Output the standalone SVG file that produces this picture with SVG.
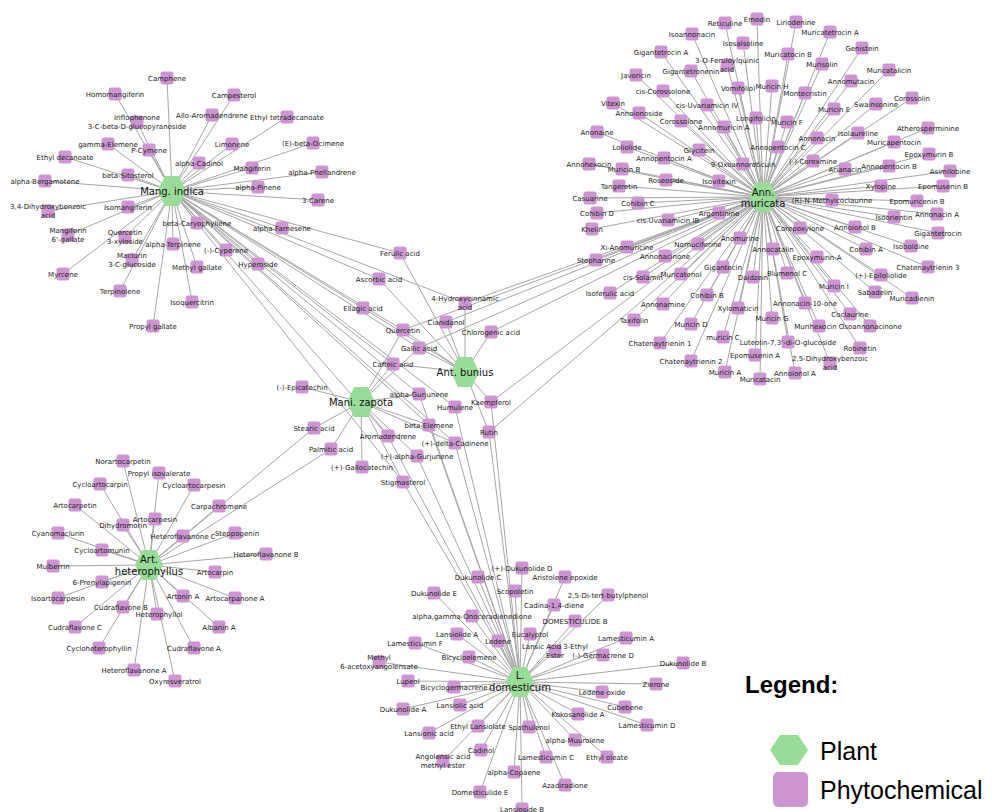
<svg xmlns="http://www.w3.org/2000/svg" xmlns:xlink="http://www.w3.org/1999/xlink" width="992" height="812" viewBox="0 0 992 812">
<style>
.e{stroke:#a6a6a6;stroke-width:1;fill:none}
.sq{fill:#cd96d2}
.hx{fill:#98dc98}
text{font-family:"DejaVu Sans",sans-serif;font-size:7px;fill:#1a1a1a;text-anchor:middle}
.hub text{font-size:10px;fill:#111}
text.lg{font-family:"Liberation Sans",Arial,sans-serif;text-anchor:start;fill:#000;font-size:25px}
text.lgt{font-weight:bold;font-size:24px}
</style>
<defs>
<rect id="sq" class="sq" x="-6.5" y="-6.5" width="13" height="13" rx="2.5"/>
<polygon id="hex" class="hx" points="-14,0 -7,-15 7,-15 14,0 7,15 -7,15"/>
</defs>
<rect width="992" height="812" fill="#fff"/>
<g id="connectors">
<!-- Mang. indica -->
<path class="e" d="M172 191L115 94"/><path class="e" d="M172 191L167 78"/><path class="e" d="M172 191L234 95"/><path class="e" d="M172 191L137 122"/><path class="e" d="M172 191L212 115"/><path class="e" d="M172 191L287 117"/><path class="e" d="M172 191L108 144"/><path class="e" d="M172 191L149 150"/><path class="e" d="M172 191L232 144"/><path class="e" d="M172 191L313 143"/><path class="e" d="M172 191L65 157"/><path class="e" d="M172 191L199 163"/><path class="e" d="M172 191L252 168"/><path class="e" d="M172 191L322 172"/><path class="e" d="M172 191L128 175"/><path class="e" d="M172 191L45 181"/><path class="e" d="M172 191L258 187"/><path class="e" d="M172 191L318 200"/><path class="e" d="M172 191L48 211"/><path class="e" d="M172 191L128 207"/><path class="e" d="M172 191L68 235"/><path class="e" d="M172 191L197 223"/><path class="e" d="M172 191L282 228"/><path class="e" d="M172 191L125 237"/><path class="e" d="M172 191L173 244"/><path class="e" d="M172 191L226 250"/><path class="e" d="M172 191L132 260"/><path class="e" d="M172 191L197 267"/><path class="e" d="M172 191L258 264"/><path class="e" d="M172 191L63 274"/><path class="e" d="M172 191L120 291"/><path class="e" d="M172 191L192 302"/><path class="e" d="M172 191L153 326"/>
<path class="e" d="M172 191L400 253"/><path class="e" d="M172 191L379 279"/><path class="e" d="M172 191L465 303"/><path class="e" d="M172 191L363 308"/><path class="e" d="M172 191L403 330"/><path class="e" d="M172 191L419 348"/><path class="e" d="M172 191L393 364"/><path class="e" d="M172 191L419 394"/><path class="e" d="M172 191L455 407"/><path class="e" d="M172 191L429 425"/><path class="e" d="M172 191L388 436"/><path class="e" d="M172 191L455 443"/><path class="e" d="M172 191L403 482"/>
<!-- Ann. muricata -->
<path class="e" d="M763 197L725 23"/><path class="e" d="M763 197L757 19"/><path class="e" d="M763 197L796 22"/><path class="e" d="M763 197L830 32"/><path class="e" d="M763 197L692 34"/><path class="e" d="M763 197L743 43"/><path class="e" d="M763 197L862 48"/><path class="e" d="M763 197L661 52"/><path class="e" d="M763 197L788 54"/><path class="e" d="M763 197L727 65"/><path class="e" d="M763 197L822 64"/><path class="e" d="M763 197L889 70"/><path class="e" d="M763 197L691 71"/><path class="e" d="M763 197L636 75"/><path class="e" d="M763 197L851 81"/><path class="e" d="M763 197L738 88"/><path class="e" d="M763 197L772 86"/><path class="e" d="M763 197L663 91"/><path class="e" d="M763 197L805 93"/><path class="e" d="M763 197L912 98"/><path class="e" d="M763 197L876 104"/><path class="e" d="M763 197L613 103"/><path class="e" d="M763 197L707 105"/><path class="e" d="M763 197L834 109"/><path class="e" d="M763 197L639 113"/><path class="e" d="M763 197L756 118"/><path class="e" d="M763 197L681 121"/><path class="e" d="M763 197L787 122"/><path class="e" d="M763 197L724 127"/><path class="e" d="M763 197L928 128"/><path class="e" d="M763 197L597 132"/><path class="e" d="M763 197L858 133"/><path class="e" d="M763 197L817 138"/><path class="e" d="M763 197L894 142"/><path class="e" d="M763 197L778 147"/><path class="e" d="M763 197L627 147"/><path class="e" d="M763 197L699 150"/><path class="e" d="M763 197L929 154"/><path class="e" d="M763 197L664 158"/><path class="e" d="M763 197L813 161"/><path class="e" d="M763 197L743 164"/><path class="e" d="M763 197L589 164"/><path class="e" d="M763 197L889 166"/><path class="e" d="M763 197L622 169"/><path class="e" d="M763 197L845 169"/><path class="e" d="M763 197L950 171"/><path class="e" d="M763 197L666 180"/><path class="e" d="M763 197L719 181"/><path class="e" d="M763 197L619 186"/><path class="e" d="M763 197L881 186"/><path class="e" d="M763 197L943 186"/><path class="e" d="M763 197L590 198"/><path class="e" d="M763 197L832 200"/><path class="e" d="M763 197L917 201"/><path class="e" d="M763 197L638 203"/><path class="e" d="M763 197L597 213"/><path class="e" d="M763 197L719 213"/><path class="e" d="M763 197L937 214"/><path class="e" d="M763 197L894 217"/><path class="e" d="M763 197L668 220"/><path class="e" d="M763 197L855 227"/><path class="e" d="M763 197L800 228"/><path class="e" d="M763 197L592 229"/><path class="e" d="M763 197L938 233"/><path class="e" d="M763 197L740 238"/><path class="e" d="M763 197L698 244"/><path class="e" d="M763 197L911 246"/><path class="e" d="M763 197L627 247"/><path class="e" d="M763 197L866 249"/><path class="e" d="M763 197L773 249"/><path class="e" d="M763 197L665 256"/><path class="e" d="M763 197L817 257"/><path class="e" d="M763 197L596 260"/><path class="e" d="M763 197L723 267"/><path class="e" d="M763 197L928 267"/><path class="e" d="M763 197L787 273"/><path class="e" d="M763 197L681 274"/><path class="e" d="M763 197L881 275"/><path class="e" d="M763 197L643 277"/><path class="e" d="M763 197L753 277"/><path class="e" d="M763 197L834 286"/><path class="e" d="M763 197L875 292"/><path class="e" d="M763 197L610 293"/><path class="e" d="M763 197L707 295"/><path class="e" d="M763 197L912 298"/><path class="e" d="M763 197L805 303"/><path class="e" d="M763 197L663 304"/><path class="e" d="M763 197L738 308"/><path class="e" d="M763 197L850 314"/><path class="e" d="M763 197L772 318"/><path class="e" d="M763 197L634 320"/><path class="e" d="M763 197L691 324"/><path class="e" d="M763 197L819 326"/><path class="e" d="M763 197L870 326"/><path class="e" d="M763 197L723 337"/><path class="e" d="M763 197L788 342"/><path class="e" d="M763 197L660 343"/><path class="e" d="M763 197L860 348"/><path class="e" d="M763 197L755 355"/><path class="e" d="M763 197L830 363"/><path class="e" d="M763 197L691 361"/><path class="e" d="M763 197L725 372"/><path class="e" d="M763 197L795 373"/><path class="e" d="M763 197L760 379"/>
<path class="e" d="M763 197L465 303"/><path class="e" d="M763 197L446 322"/><path class="e" d="M763 197L403 330"/><path class="e" d="M763 197L419 348"/><path class="e" d="M763 197L491 332"/><path class="e" d="M763 197L491 402"/><path class="e" d="M763 197L489 432"/>
<!-- Ant. bunius -->
<path class="e" d="M465 372L400 253"/><path class="e" d="M465 372L379 279"/><path class="e" d="M465 372L465 303"/><path class="e" d="M465 372L363 308"/><path class="e" d="M465 372L446 322"/><path class="e" d="M465 372L403 330"/><path class="e" d="M465 372L491 332"/><path class="e" d="M465 372L419 348"/><path class="e" d="M465 372L393 364"/><path class="e" d="M465 372L491 402"/><path class="e" d="M465 372L489 432"/>
<!-- Mani. zapota -->
<path class="e" d="M361 402L302 387"/><path class="e" d="M361 402L314 428"/><path class="e" d="M361 402L331 449"/><path class="e" d="M361 402L362 467"/><path class="e" d="M361 402L388 436"/><path class="e" d="M361 402L417 456"/><path class="e" d="M361 402L403 482"/><path class="e" d="M361 402L429 425"/><path class="e" d="M361 402L419 394"/><path class="e" d="M361 402L455 443"/><path class="e" d="M361 402L393 364"/><path class="e" d="M361 402L419 348"/><path class="e" d="M361 402L403 330"/>
<!-- Art. heterophyllus -->
<path class="e" d="M149 565L123 461"/><path class="e" d="M149 565L159 473"/><path class="e" d="M149 565L100 484"/><path class="e" d="M149 565L194 485"/><path class="e" d="M149 565L75 505"/><path class="e" d="M149 565L219 506"/><path class="e" d="M149 565L155 519"/><path class="e" d="M149 565L123 525"/><path class="e" d="M149 565L58 533"/><path class="e" d="M149 565L183 536"/><path class="e" d="M149 565L235 533"/><path class="e" d="M149 565L102 550"/><path class="e" d="M149 565L266 554"/><path class="e" d="M149 565L53 566"/><path class="e" d="M149 565L215 572"/><path class="e" d="M149 565L102 582"/><path class="e" d="M149 565L58 598"/><path class="e" d="M149 565L183 596"/><path class="e" d="M149 565L235 598"/><path class="e" d="M149 565L123 607"/><path class="e" d="M149 565L157 614"/><path class="e" d="M149 565L75 627"/><path class="e" d="M149 565L219 627"/><path class="e" d="M149 565L99 648"/><path class="e" d="M149 565L194 648"/><path class="e" d="M149 565L134 670"/><path class="e" d="M149 565L175 681"/><path class="e" d="M149 565L314 428"/><path class="e" d="M149 565L331 449"/>
<!-- L. domesticum -->
<path class="e" d="M520 682L522 568"/><path class="e" d="M520 682L478 577"/><path class="e" d="M520 682L565 577"/><path class="e" d="M520 682L515 591"/><path class="e" d="M520 682L434 593"/><path class="e" d="M520 682L608 595"/><path class="e" d="M520 682L554 605"/><path class="e" d="M520 682L472 616"/><path class="e" d="M520 682L575 621"/><path class="e" d="M520 682L457 634"/><path class="e" d="M520 682L530 634"/><path class="e" d="M520 682L498 641"/><path class="e" d="M520 682L626 638"/><path class="e" d="M520 682L415 643"/><path class="e" d="M520 682L555 651"/><path class="e" d="M520 682L603 655"/><path class="e" d="M520 682L469 657"/><path class="e" d="M520 682L379 662"/><path class="e" d="M520 682L683 663"/><path class="e" d="M520 682L408 681"/><path class="e" d="M520 682L454 687"/><path class="e" d="M520 682L656 684"/><path class="e" d="M520 682L602 692"/><path class="e" d="M520 682L625 707"/><path class="e" d="M520 682L403 709"/><path class="e" d="M520 682L460 705"/><path class="e" d="M520 682L578 714"/><path class="e" d="M520 682L478 726"/><path class="e" d="M520 682L529 727"/><path class="e" d="M520 682L647 725"/><path class="e" d="M520 682L429 733"/><path class="e" d="M520 682L575 740"/><path class="e" d="M520 682L481 750"/><path class="e" d="M520 682L443 761"/><path class="e" d="M520 682L546 757"/><path class="e" d="M520 682L607 757"/><path class="e" d="M520 682L514 772"/><path class="e" d="M520 682L565 785"/><path class="e" d="M520 682L480 792"/><path class="e" d="M520 682L522 809"/>
<path class="e" d="M520 682L419 394"/><path class="e" d="M520 682L455 407"/><path class="e" d="M520 682L429 425"/><path class="e" d="M520 682L388 436"/><path class="e" d="M520 682L455 443"/><path class="e" d="M520 682L417 456"/><path class="e" d="M520 682L403 482"/><path class="e" d="M520 682L489 432"/><path class="e" d="M520 682L491 402"/>
</g>
<g id="nodes">
<!-- Mang. indica leaves -->
<g id="homomangiferin"><use href="#sq" x="115" y="94"/><text x="115" y="96.5">Homomangiferin</text></g>
<g id="camphene"><use href="#sq" x="167" y="78"/><text x="167" y="80.5">Camphene</text></g>
<g id="campesterol"><use href="#sq" x="234" y="95"/><text x="234" y="97.5">Campesterol</text></g>
<g id="iriflophenone"><use href="#sq" x="137" y="122"/><text x="137" y="120.3">Iriflophenone</text><text x="137" y="128.8">3-C-beta-D-glucopyranoside</text></g>
<g id="allo-aromadendrene"><use href="#sq" x="212" y="115"/><text x="212" y="117.5">Allo-Aromadendrene</text></g>
<g id="ethyl-tetradecanoate"><use href="#sq" x="287" y="117"/><text x="287" y="119.5">Ethyl tetradecanoate</text></g>
<g id="gamma-elemene"><use href="#sq" x="108" y="144"/><text x="108" y="146.5">gamma-Elemene</text></g>
<g id="p-cymene"><use href="#sq" x="149" y="150"/><text x="149" y="152.5">P-Cymene</text></g>
<g id="limonene"><use href="#sq" x="232" y="144"/><text x="232" y="146.5">Limonene</text></g>
<g id="e-beta-ocimene"><use href="#sq" x="313" y="143"/><text x="313" y="145.5">(E)-beta-Ocimene</text></g>
<g id="ethyl-decanoate"><use href="#sq" x="65" y="157"/><text x="65" y="159.5">Ethyl decanoate</text></g>
<g id="alpha-cadinol"><use href="#sq" x="199" y="163"/><text x="199" y="165.5">alpha-Cadinol</text></g>
<g id="mangiferin"><use href="#sq" x="252" y="168"/><text x="252" y="170.5">Mangiferin</text></g>
<g id="alpha-phellandrene"><use href="#sq" x="322" y="172"/><text x="322" y="174.5">alpha-Phellandrene</text></g>
<g id="beta-sitosterol"><use href="#sq" x="128" y="175"/><text x="128" y="177.5">beta-Sitosterol</text></g>
<g id="alpha-bergamotene"><use href="#sq" x="45" y="181"/><text x="45" y="183.5">alpha-Bergamotene</text></g>
<g id="alpha-pinene"><use href="#sq" x="258" y="187"/><text x="258" y="189.5">alpha-Pinene</text></g>
<g id="3-carene"><use href="#sq" x="318" y="200"/><text x="318" y="202.5">3-Carene</text></g>
<g id="dihydroxybenzoic-34"><use href="#sq" x="48" y="211"/><text x="48" y="209.3">3,4-Dihydroxybenzoic</text><text x="48" y="217.8">acid</text></g>
<g id="isomangiferin"><use href="#sq" x="128" y="207"/><text x="128" y="209.5">Isomangiferin</text></g>
<g id="mangiferin-gallate"><use href="#sq" x="68" y="235"/><text x="68" y="233.3">Mangiferin</text><text x="68" y="241.8">6'-gallate</text></g>
<g id="beta-caryophyllene"><use href="#sq" x="197" y="223"/><text x="197" y="225.5">beta-Caryophyllene</text></g>
<g id="alpha-farnesene"><use href="#sq" x="282" y="228"/><text x="282" y="230.5">alpha-Farnesene</text></g>
<g id="quercetin-xyloside"><use href="#sq" x="125" y="237"/><text x="125" y="235.3">Quercetin</text><text x="125" y="243.8">3-xyloside</text></g>
<g id="alpha-terpinene"><use href="#sq" x="173" y="244"/><text x="173" y="246.5">alpha-Terpinene</text></g>
<g id="cyperene"><use href="#sq" x="226" y="250"/><text x="226" y="252.5">(-)-Cyperene</text></g>
<g id="maclurin"><use href="#sq" x="132" y="260"/><text x="132" y="258.3">Maclurin</text><text x="132" y="266.8">3-C-glucoside</text></g>
<g id="methyl-gallate"><use href="#sq" x="197" y="267"/><text x="197" y="269.5">Methyl gallate</text></g>
<g id="hyperoside"><use href="#sq" x="258" y="264"/><text x="258" y="266.5">Hyperoside</text></g>
<g id="myrcene"><use href="#sq" x="63" y="274"/><text x="63" y="276.5">Myrcene</text></g>
<g id="terpinolene"><use href="#sq" x="120" y="291"/><text x="120" y="293.5">Terpinolene</text></g>
<g id="isoquercitrin"><use href="#sq" x="192" y="302"/><text x="192" y="304.5">Isoquercitrin</text></g>
<g id="propyl-gallate"><use href="#sq" x="153" y="326"/><text x="153" y="328.5">Propyl gallate</text></g>
<!-- shared middle -->
<g id="ferulic-acid"><use href="#sq" x="400" y="253"/><text x="400" y="255.5">Ferulic acid</text></g>
<g id="ascorbic-acid"><use href="#sq" x="379" y="279"/><text x="379" y="281.5">Ascorbic acid</text></g>
<g id="hydroxycinnamic"><use href="#sq" x="465" y="303"/><text x="465" y="301.3">4-Hydroxycinnamic</text><text x="465" y="309.8">acid</text></g>
<g id="ellagic-acid"><use href="#sq" x="363" y="308"/><text x="363" y="310.5">Ellagic acid</text></g>
<g id="cianidanol"><use href="#sq" x="446" y="322"/><text x="446" y="324.5">Cianidanol</text></g>
<g id="quercetin"><use href="#sq" x="403" y="330"/><text x="403" y="332.5">Quercetin</text></g>
<g id="chlorogenic-acid"><use href="#sq" x="491" y="332"/><text x="491" y="334.5">Chlorogenic acid</text></g>
<g id="gallic-acid"><use href="#sq" x="419" y="348"/><text x="419" y="350.5">Gallic acid</text></g>
<g id="caffeic-acid"><use href="#sq" x="393" y="364"/><text x="393" y="366.5">Caffeic acid</text></g>
<g id="epicatechin"><use href="#sq" x="302" y="387"/><text x="302" y="389.5">(-)-Epicatechin</text></g>
<g id="alpha-gurjunene"><use href="#sq" x="419" y="394"/><text x="419" y="396.5">alpha-Gurjunene</text></g>
<g id="kaempferol"><use href="#sq" x="491" y="402"/><text x="491" y="404.5">Kaempferol</text></g>
<g id="humulene"><use href="#sq" x="455" y="407"/><text x="455" y="409.5">Humulene</text></g>
<g id="stearic-acid"><use href="#sq" x="314" y="428"/><text x="314" y="430.5">Stearic acid</text></g>
<g id="beta-elemene"><use href="#sq" x="429" y="425"/><text x="429" y="427.5">beta-Elemene</text></g>
<g id="rutin"><use href="#sq" x="489" y="432"/><text x="489" y="434.5">Rutin</text></g>
<g id="aromadendrene"><use href="#sq" x="388" y="436"/><text x="388" y="438.5">Aromadendrene</text></g>
<g id="delta-cadinene"><use href="#sq" x="455" y="443"/><text x="455" y="445.5">(+)-delta-Cadinene</text></g>
<g id="palmitic-acid"><use href="#sq" x="331" y="449"/><text x="331" y="451.5">Palmitic acid</text></g>
<g id="plus-alpha-gurjunene"><use href="#sq" x="417" y="456"/><text x="417" y="458.5">(+)-alpha-Gurjunene</text></g>
<g id="gallocatechin"><use href="#sq" x="362" y="467"/><text x="362" y="469.5">(+)-Gallocatechin</text></g>
<g id="stigmasterol"><use href="#sq" x="403" y="482"/><text x="403" y="484.5">Stigmasterol</text></g>
<!-- Ann. muricata leaves -->
<g id="reticuline"><use href="#sq" x="725" y="23"/><text x="725" y="25.5">Reticuline</text></g>
<g id="emodin"><use href="#sq" x="757" y="19"/><text x="757" y="21.5">Emodin</text></g>
<g id="liriodenine"><use href="#sq" x="796" y="22"/><text x="796" y="24.5">Liriodenine</text></g>
<g id="muricatetrocin-a"><use href="#sq" x="830" y="32"/><text x="830" y="34.5">Muricatetrocin A</text></g>
<g id="isoannonacin"><use href="#sq" x="692" y="34"/><text x="692" y="36.5">Isoannonacin</text></g>
<g id="isosalsoline"><use href="#sq" x="743" y="43"/><text x="743" y="45.5">Isosalsoline</text></g>
<g id="genistein"><use href="#sq" x="862" y="48"/><text x="862" y="50.5">Genistein</text></g>
<g id="gigantetrocin-a"><use href="#sq" x="661" y="52"/><text x="661" y="54.5">Gigantetrocin A</text></g>
<g id="muricatocin-b"><use href="#sq" x="788" y="54"/><text x="788" y="56.5">Muricatocin B</text></g>
<g id="feruloylquinic"><use href="#sq" x="727" y="65"/><text x="727" y="63.3">3-O-Feruloylquinic</text><text x="727" y="71.8">acid</text></g>
<g id="murisolin"><use href="#sq" x="822" y="64"/><text x="822" y="66.5">Murisolin</text></g>
<g id="muricatalicin"><use href="#sq" x="889" y="70"/><text x="889" y="72.5">Muricatalicin</text></g>
<g id="gigantetronenin"><use href="#sq" x="691" y="71"/><text x="691" y="73.5">Gigantetronenin</text></g>
<g id="javoricin"><use href="#sq" x="636" y="75"/><text x="636" y="77.5">Javoricin</text></g>
<g id="annomutacin"><use href="#sq" x="851" y="81"/><text x="851" y="83.5">Annomutacin</text></g>
<g id="vomifoliol"><use href="#sq" x="738" y="88"/><text x="738" y="90.5">Vomifoliol</text></g>
<g id="muricin-h"><use href="#sq" x="772" y="86"/><text x="772" y="88.5">Muricin H</text></g>
<g id="cis-corossolone"><use href="#sq" x="663" y="91"/><text x="663" y="93.5">cis-Corossolone</text></g>
<g id="montecristin"><use href="#sq" x="805" y="93"/><text x="805" y="95.5">Montecristin</text></g>
<g id="corossolin"><use href="#sq" x="912" y="98"/><text x="912" y="100.5">Corossolin</text></g>
<g id="swainsonine"><use href="#sq" x="876" y="104"/><text x="876" y="106.5">Swainsonine</text></g>
<g id="vitexin"><use href="#sq" x="613" y="103"/><text x="613" y="105.5">Vitexin</text></g>
<g id="cis-uvariamicin-iv"><use href="#sq" x="707" y="105"/><text x="707" y="107.5">cis-Uvariamicin IV</text></g>
<g id="muricin-e"><use href="#sq" x="834" y="109"/><text x="834" y="111.5">Muricin E</text></g>
<g id="annoionoside"><use href="#sq" x="639" y="113"/><text x="639" y="115.5">Annoionoside</text></g>
<g id="longifolicin"><use href="#sq" x="756" y="118"/><text x="756" y="120.5">Longifolicin</text></g>
<g id="corossolone"><use href="#sq" x="681" y="121"/><text x="681" y="123.5">Corossolone</text></g>
<g id="muricin-f"><use href="#sq" x="787" y="122"/><text x="787" y="124.5">Muricin F</text></g>
<g id="annomuricin-a"><use href="#sq" x="724" y="127"/><text x="724" y="129.5">Annomuricin A</text></g>
<g id="atherosperminine"><use href="#sq" x="928" y="128"/><text x="928" y="130.5">Atherosperminine</text></g>
<g id="anonaine"><use href="#sq" x="597" y="132"/><text x="597" y="134.5">Anonaine</text></g>
<g id="isolaureline"><use href="#sq" x="858" y="133"/><text x="858" y="135.5">Isolaureline</text></g>
<g id="annonacin"><use href="#sq" x="817" y="138"/><text x="817" y="140.5">Annonacin</text></g>
<g id="muricapentocin"><use href="#sq" x="894" y="142"/><text x="894" y="144.5">Muricapentocin</text></g>
<g id="annopentocin-c"><use href="#sq" x="778" y="147"/><text x="778" y="149.5">Annopentocin C</text></g>
<g id="loliolide"><use href="#sq" x="627" y="147"/><text x="627" y="149.5">Loliolide</text></g>
<g id="glycitein"><use href="#sq" x="699" y="150"/><text x="699" y="152.5">Glycitein</text></g>
<g id="epoxymurin-b"><use href="#sq" x="929" y="154"/><text x="929" y="156.5">Epoxymurin B</text></g>
<g id="annopentocin-a"><use href="#sq" x="664" y="158"/><text x="664" y="160.5">Annopentocin A</text></g>
<g id="corexmine"><use href="#sq" x="813" y="161"/><text x="813" y="163.5">(-)-Corexmine</text></g>
<g id="oxoannoreticuin"><use href="#sq" x="743" y="164"/><text x="743" y="166.5">9-Oxoannoreticuin</text></g>
<g id="annohexocin"><use href="#sq" x="589" y="164"/><text x="589" y="166.5">Annohexocin</text></g>
<g id="annopentocin-b"><use href="#sq" x="889" y="166"/><text x="889" y="168.5">Annopentocin B</text></g>
<g id="muricin-b"><use href="#sq" x="622" y="169"/><text x="624" y="171.5">Muricin B</text></g>
<g id="arianacin"><use href="#sq" x="845" y="169"/><text x="845" y="171.5">Arianacin</text></g>
<g id="asimilobine"><use href="#sq" x="950" y="171"/><text x="950" y="173.5">Asimilobine</text></g>
<g id="roseoside"><use href="#sq" x="666" y="180"/><text x="666" y="182.5">Roseoside</text></g>
<g id="isovitexin"><use href="#sq" x="719" y="181"/><text x="719" y="183.5">Isovitexin</text></g>
<g id="tangeretin"><use href="#sq" x="619" y="186"/><text x="619" y="188.5">Tangeretin</text></g>
<g id="xylopine"><use href="#sq" x="881" y="186"/><text x="881" y="188.5">Xylopine</text></g>
<g id="epomusenin-b"><use href="#sq" x="943" y="186"/><text x="943" y="188.5">Epomusenin B</text></g>
<g id="casuarine"><use href="#sq" x="590" y="198"/><text x="590" y="200.5">Casuarine</text></g>
<g id="methylcoclaurine"><use href="#sq" x="832" y="200"/><text x="832" y="202.5">(R)-N-Methylcoclaurine</text></g>
<g id="epomuricenin-b"><use href="#sq" x="917" y="201"/><text x="917" y="203.5">Epomuricenin B</text></g>
<g id="cohibin-c"><use href="#sq" x="638" y="203"/><text x="638" y="205.5">Cohibin C</text></g>
<g id="cohibin-d"><use href="#sq" x="597" y="213"/><text x="597" y="215.5">Cohibin D</text></g>
<g id="argentinine"><use href="#sq" x="719" y="213"/><text x="719" y="215.5">Argentinine</text></g>
<g id="annonacin-a"><use href="#sq" x="937" y="214"/><text x="937" y="216.5">Annonacin A</text></g>
<g id="isoorientin"><use href="#sq" x="894" y="217"/><text x="894" y="219.5">Isoorientin</text></g>
<g id="cis-uvariamicin-ib"><use href="#sq" x="668" y="220"/><text x="668" y="222.5">cis-Uvariamicin IB</text></g>
<g id="annoionol-b"><use href="#sq" x="855" y="227"/><text x="855" y="229.5">Annoionol B</text></g>
<g id="corepoxylone"><use href="#sq" x="800" y="228"/><text x="800" y="230.5">Corepoxylone</text></g>
<g id="khelin"><use href="#sq" x="592" y="229"/><text x="592" y="231.5">Khelin</text></g>
<g id="gigantetrocin"><use href="#sq" x="938" y="233"/><text x="938" y="235.5">Gigantetrocin</text></g>
<g id="anomurine"><use href="#sq" x="740" y="238"/><text x="740" y="240.5">Anomurine</text></g>
<g id="nornuciferine"><use href="#sq" x="698" y="244"/><text x="698" y="246.5">Nornuciferine</text></g>
<g id="isoboldine"><use href="#sq" x="911" y="246"/><text x="911" y="248.5">Isoboldine</text></g>
<g id="xi-anomuricine"><use href="#sq" x="627" y="247"/><text x="627" y="249.5">Xi-Anomuricine</text></g>
<g id="cohibin-a"><use href="#sq" x="866" y="249"/><text x="866" y="251.5">Cohibin A</text></g>
<g id="annocatalin"><use href="#sq" x="773" y="249"/><text x="773" y="251.5">Annocatalin</text></g>
<g id="annonacinone"><use href="#sq" x="665" y="256"/><text x="665" y="258.5">Annonacinone</text></g>
<g id="epoxymurin-a"><use href="#sq" x="817" y="257"/><text x="817" y="259.5">Epoxymurin-A</text></g>
<g id="stepharine"><use href="#sq" x="596" y="260"/><text x="596" y="262.5">Stepharine</text></g>
<g id="gigantecin"><use href="#sq" x="723" y="267"/><text x="723" y="269.5">Gigantecin</text></g>
<g id="chatenaytrienin-3"><use href="#sq" x="928" y="267"/><text x="928" y="269.5">Chatenaytrienin 3</text></g>
<g id="blumenol-c"><use href="#sq" x="787" y="273"/><text x="787" y="275.5">Blumenol C</text></g>
<g id="muricatenol"><use href="#sq" x="681" y="274"/><text x="681" y="276.5">Muricatenol</text></g>
<g id="epiloliolide"><use href="#sq" x="881" y="275"/><text x="881" y="277.5">(+)-Epiloliolide</text></g>
<g id="cis-solamin"><use href="#sq" x="643" y="277"/><text x="643" y="279.5">cis-Solamin</text></g>
<g id="daidzein"><use href="#sq" x="753" y="277"/><text x="753" y="279.5">Daidzein</text></g>
<g id="muricin-i"><use href="#sq" x="834" y="286"/><text x="834" y="288.5">Muricin I</text></g>
<g id="sabadelin"><use href="#sq" x="875" y="292"/><text x="875" y="294.5">Sabadelin</text></g>
<g id="isoferulic-acid"><use href="#sq" x="610" y="293"/><text x="610" y="295.5">Isoferulic acid</text></g>
<g id="cohibin-b"><use href="#sq" x="707" y="295"/><text x="707" y="297.5">Cohibin B</text></g>
<g id="muricadienin"><use href="#sq" x="912" y="298"/><text x="912" y="300.5">Muricadienin</text></g>
<g id="annonacin-10-one"><use href="#sq" x="805" y="303"/><text x="805" y="305.5">Annonacin-10-one</text></g>
<g id="annonamine"><use href="#sq" x="663" y="304"/><text x="663" y="306.5">Annonamine</text></g>
<g id="xylomaticin"><use href="#sq" x="738" y="308"/><text x="738" y="310.5">Xylomaticin</text></g>
<g id="coclaurine"><use href="#sq" x="850" y="314"/><text x="850" y="316.5">Coclaurine</text></g>
<g id="muricin-g"><use href="#sq" x="772" y="318"/><text x="772" y="320.5">Muricin G</text></g>
<g id="taxifolin"><use href="#sq" x="634" y="320"/><text x="634" y="322.5">Taxifolin</text></g>
<g id="muricin-d"><use href="#sq" x="691" y="324"/><text x="691" y="326.5">Muricin D</text></g>
<g id="murihexocin-c"><use href="#sq" x="819" y="326"/><text x="819" y="328.5">Murihexocin C</text></g>
<g id="isoannonacinone"><use href="#sq" x="870" y="326"/><text x="872" y="328.5">Isoannonacinone</text></g>
<g id="muricin-c"><use href="#sq" x="723" y="337"/><text x="723" y="339.5">muricin C</text></g>
<g id="luteolin"><use href="#sq" x="788" y="342"/><text x="788" y="344.5">Luteolin-7,3'-di-O-glucoside</text></g>
<g id="chatenaytrienin-1"><use href="#sq" x="660" y="343"/><text x="660" y="345.5">Chatenaytrienin 1</text></g>
<g id="robinetin"><use href="#sq" x="860" y="348"/><text x="860" y="350.5">Robinetin</text></g>
<g id="epomusenin-a"><use href="#sq" x="755" y="355"/><text x="755" y="357.5">Epomusenin A</text></g>
<g id="dihydroxybenzoic-25"><use href="#sq" x="830" y="363"/><text x="830" y="361.3">2,5-Dihydroxybenzoic</text><text x="830" y="369.8">acid</text></g>
<g id="chatenaytrienin-2"><use href="#sq" x="691" y="361"/><text x="691" y="363.5">Chatenaytrienin 2</text></g>
<g id="muricin-a"><use href="#sq" x="725" y="372"/><text x="725" y="374.5">Muricin A</text></g>
<g id="annoionol-a"><use href="#sq" x="795" y="373"/><text x="795" y="375.5">Annoionol  A</text></g>
<g id="muricatacin"><use href="#sq" x="760" y="379"/><text x="760" y="381.5">Muricatacin</text></g>
<!-- Art. heterophyllus leaves -->
<g id="norartocarpetin"><use href="#sq" x="123" y="461"/><text x="123" y="463.5">Norartocarpetin</text></g>
<g id="propyl-isovalerate"><use href="#sq" x="159" y="473"/><text x="159" y="475.5">Propyl isovalerate</text></g>
<g id="cycloartocarpin"><use href="#sq" x="100" y="484"/><text x="100" y="486.5">Cycloartocarpin</text></g>
<g id="cycloartocarpesin"><use href="#sq" x="194" y="485"/><text x="194" y="487.5">Cycloartocarpesin</text></g>
<g id="artocarpetin"><use href="#sq" x="75" y="505"/><text x="75" y="507.5">Artocarpetin</text></g>
<g id="carpachromene"><use href="#sq" x="219" y="506"/><text x="219" y="508.5">Carpachromene</text></g>
<g id="artocarpesin"><use href="#sq" x="155" y="519"/><text x="155" y="521.5">Artocarpesin</text></g>
<g id="dihydromorin"><use href="#sq" x="123" y="525"/><text x="123" y="527.5">Dihydromorin</text></g>
<g id="cyanomaclurin"><use href="#sq" x="58" y="533"/><text x="58" y="535.5">Cyanomaclurin</text></g>
<g id="heteroflavanone-c"><use href="#sq" x="183" y="536"/><text x="183" y="538.5">Heteroflavanone C</text></g>
<g id="steppogenin"><use href="#sq" x="235" y="533"/><text x="237" y="535.5">Steppogenin</text></g>
<g id="cycloartomunin"><use href="#sq" x="102" y="550"/><text x="102" y="552.5">Cycloartomunin</text></g>
<g id="heteroflavanone-b"><use href="#sq" x="266" y="554"/><text x="266" y="556.5">Heteroflavanone B</text></g>
<g id="mulberrin"><use href="#sq" x="53" y="566"/><text x="53" y="568.5">Mulberrin</text></g>
<g id="artocarpin"><use href="#sq" x="215" y="572"/><text x="215" y="574.5">Artocarpin</text></g>
<g id="prenylapigenin"><use href="#sq" x="102" y="582"/><text x="102" y="584.5">6-Prenylapigenin</text></g>
<g id="isoartocarpesin"><use href="#sq" x="58" y="598"/><text x="58" y="600.5">Isoartocarpesin</text></g>
<g id="artonin-a"><use href="#sq" x="183" y="596"/><text x="183" y="598.5">Artonin A</text></g>
<g id="artocarpanone-a"><use href="#sq" x="235" y="598"/><text x="235" y="600.5">Artocarpanone A</text></g>
<g id="cudraflavone-b"><use href="#sq" x="123" y="607"/><text x="121" y="609.5">Cudraflavone B</text></g>
<g id="heterophyllol"><use href="#sq" x="157" y="614"/><text x="159" y="616.5">Heterophyllol</text></g>
<g id="cudraflavone-c"><use href="#sq" x="75" y="627"/><text x="75" y="629.5">Cudraflavone C</text></g>
<g id="albanin-a"><use href="#sq" x="219" y="627"/><text x="219" y="629.5">Albanin A</text></g>
<g id="cycloheterophyllin"><use href="#sq" x="99" y="648"/><text x="99" y="650.5">Cycloheterophyllin</text></g>
<g id="cudraflavone-a"><use href="#sq" x="194" y="648"/><text x="194" y="650.5">Cudraflavone A</text></g>
<g id="heteroflavanone-a"><use href="#sq" x="134" y="670"/><text x="134" y="672.5">Heteroflavanone A</text></g>
<g id="oxyresveratrol"><use href="#sq" x="175" y="681"/><text x="175" y="683.5">Oxyresveratrol</text></g>
<!-- L. domesticum leaves -->
<g id="dukunolide-d"><use href="#sq" x="522" y="568"/><text x="522" y="570.5">(+)-Dukunolide D</text></g>
<g id="dukunolide-c"><use href="#sq" x="478" y="577"/><text x="478" y="579.5">Dukunolide C</text></g>
<g id="aristolene-epoxide"><use href="#sq" x="565" y="577"/><text x="565" y="579.5">Aristolene epoxide</text></g>
<g id="scopoletin"><use href="#sq" x="515" y="591"/><text x="515" y="593.5">Scopoletin</text></g>
<g id="dukunolide-e"><use href="#sq" x="434" y="593"/><text x="434" y="595.5">Dukunolide E</text></g>
<g id="di-tert-butylphenol"><use href="#sq" x="608" y="595"/><text x="608" y="597.5">2,5-Di-tert-butylphenol</text></g>
<g id="cadina-diene"><use href="#sq" x="554" y="605"/><text x="554" y="607.5">Cadina-1,4-diene</text></g>
<g id="onoceradienedione"><use href="#sq" x="472" y="616"/><text x="472" y="618.5">alpha,gamma-Onoceradienedione</text></g>
<g id="domesticulide-b"><use href="#sq" x="575" y="621"/><text x="575" y="623.5">DOMESTICULIDE B</text></g>
<g id="lansiolide-a"><use href="#sq" x="457" y="634"/><text x="457" y="636.5">Lansiolide A</text></g>
<g id="eucalyptol"><use href="#sq" x="530" y="634"/><text x="530" y="636.5">Eucalyptol</text></g>
<g id="ledene"><use href="#sq" x="498" y="641"/><text x="498" y="643.5">Ledene</text></g>
<g id="lamesticumin-a"><use href="#sq" x="626" y="638"/><text x="626" y="640.5">Lamesticumin A</text></g>
<g id="lamesticumin-f"><use href="#sq" x="415" y="643"/><text x="415" y="645.5">Lamesticumin F</text></g>
<g id="lansic-acid"><use href="#sq" x="555" y="651"/><text x="555" y="649.3">Lansic Acid 3-Ethyl</text><text x="555" y="657.8">Ester</text></g>
<g id="germacrene-d"><use href="#sq" x="603" y="655"/><text x="603" y="657.5">(-)-Germacrene D</text></g>
<g id="bicycloelemene"><use href="#sq" x="469" y="657"/><text x="469" y="659.5">Bicycloelemene</text></g>
<g id="methyl-acetoxyangolensate"><use href="#sq" x="379" y="662"/><text x="379" y="660.3">Methyl</text><text x="379" y="668.8">6-acetoxyangolensate</text></g>
<g id="dukunolide-b"><use href="#sq" x="683" y="663"/><text x="683" y="665.5">Dukunolide B</text></g>
<g id="lupeol"><use href="#sq" x="408" y="681"/><text x="408" y="683.5">Lupeol</text></g>
<g id="bicyclogermacrene"><use href="#sq" x="454" y="687"/><text x="454" y="689.5">Bicyclogermacrene</text></g>
<g id="zierone"><use href="#sq" x="656" y="684"/><text x="656" y="686.5">Zierone</text></g>
<g id="ledene-oxide"><use href="#sq" x="602" y="692"/><text x="602" y="694.5">Ledene oxide</text></g>
<g id="cubebene"><use href="#sq" x="625" y="707"/><text x="625" y="709.5">Cubebene</text></g>
<g id="dukunolide-a"><use href="#sq" x="403" y="709"/><text x="403" y="711.5">Dukunolide A</text></g>
<g id="lansiolic-acid"><use href="#sq" x="460" y="705"/><text x="460" y="707.5">Lansiolic acid</text></g>
<g id="kokosanolide-a"><use href="#sq" x="578" y="714"/><text x="578" y="716.5">Kokosanolide A</text></g>
<g id="ethyl-lansiolate"><use href="#sq" x="478" y="726"/><text x="478" y="728.5">Ethyl Lansiolate</text></g>
<g id="spathulenol"><use href="#sq" x="529" y="727"/><text x="529" y="729.5">Spathulenol</text></g>
<g id="lamesticumin-d"><use href="#sq" x="647" y="725"/><text x="647" y="727.5">Lamesticumin D</text></g>
<g id="lansionic-acid"><use href="#sq" x="429" y="733"/><text x="429" y="735.5">Lansionic acid</text></g>
<g id="alpha-muurolene"><use href="#sq" x="575" y="740"/><text x="575" y="742.5">alpha-Muurolene</text></g>
<g id="cadinol"><use href="#sq" x="481" y="750"/><text x="481" y="752.5">Cadinol</text></g>
<g id="angolensic-acid"><use href="#sq" x="443" y="761"/><text x="443" y="759.3">Angolensic acid</text><text x="443" y="767.8">methyl ester</text></g>
<g id="lamesticumin-c"><use href="#sq" x="546" y="757"/><text x="546" y="759.5">Lamesticumin C</text></g>
<g id="ethyl-oleate"><use href="#sq" x="607" y="757"/><text x="607" y="759.5">Ethyl oleate</text></g>
<g id="alpha-copaene"><use href="#sq" x="514" y="772"/><text x="514" y="774.5">alpha-Copaene</text></g>
<g id="azadiradione"><use href="#sq" x="565" y="785"/><text x="565" y="787.5">Azadiradione</text></g>
<g id="domesticulide-e"><use href="#sq" x="480" y="792"/><text x="480" y="794.5">Domesticulide E</text></g>
<g id="lansioside-b"><use href="#sq" x="522" y="809"/><text x="522" y="811.5">Lansioside B</text></g>
<!-- hubs -->
<g id="mang-indica" class="hub"><use href="#hex" x="172" y="191"/><text x="172" y="194.5">Mang. indica</text></g>
<g id="ann-muricata" class="hub"><use href="#hex" x="763" y="197"/><text x="763" y="195.5">Ann.</text><text x="763" y="206.5">muricata</text></g>
<g id="ant-bunius" class="hub"><use href="#hex" x="465" y="372"/><text x="465" y="375.5">Ant. bunius</text></g>
<g id="mani-zapota" class="hub"><use href="#hex" x="361" y="402"/><text x="361" y="405.5">Mani. zapota</text></g>
<g id="art-heterophyllus" class="hub"><use href="#hex" x="149" y="565"/><text x="149" y="562.5">Art.</text><text x="149" y="574.5">heterophyllus</text></g>
<g id="l-domesticum" class="hub"><use href="#hex" x="520" y="682"/><text x="520" y="679">L.</text><text x="520" y="690.5">domesticum</text></g>
</g>
<g id="legend">
<text class="lg lgt" x="745" y="693">Legend:</text>
<polygon class="hx" points="770,750 780,735 798,735 808,750 798,765 780,765"/>
<text class="lg" x="820" y="760">Plant</text>
<rect class="sq" x="773" y="772" width="35" height="35" rx="5"/>
<text class="lg" x="820" y="799">Phytochemical</text>
</g>
</svg>
